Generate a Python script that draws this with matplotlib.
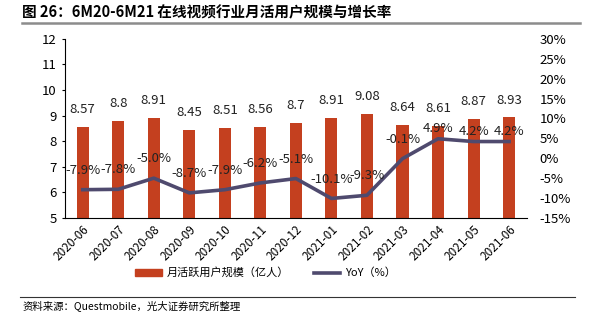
import matplotlib.pyplot as plt
from matplotlib.lines import Line2D
from matplotlib.patches import Patch

plt.rcParams['font.family'] = ['Noto Sans CJK SC', 'DejaVu Sans']

# 月活跃用户规模（亿人）与同比增速
months = ["2020-06", "2020-07", "2020-08", "2020-09", "2020-10", "2020-11", "2020-12",
          "2021-01", "2021-02", "2021-03", "2021-04", "2021-05", "2021-06"]
mau = [8.57, 8.8, 8.91, 8.45, 8.51, 8.56, 8.7, 8.91, 9.08, 8.64, 8.61, 8.87, 8.93]
yoy = [-7.9, -7.8, -5.0, -8.7, -7.9, -6.2, -5.1, -10.1, -9.3, -0.1, 4.9, 4.2, 4.2]

bar_color = "#C4401F"
line_color = "#4F4A6E"

fig = plt.figure(figsize=(5.96, 3.21), dpi=100)
ax = fig.add_axes([0.109, 0.321, 0.775, 0.558])
x = list(range(len(months)))

ax.bar(x, mau, width=0.34, color=bar_color, zorder=2)
for xi, v in zip(x, mau):
    ax.annotate(f"{v:g}", (xi, v), xytext=(0, 12.5), textcoords="offset points",
                ha="center", va="center", fontsize=9.5, color="#222222")

ax.set_xlim(-0.5, len(months) - 0.5)
ax.set_ylim(5, 12)
ax.set_yticks(range(5, 13))
ax.tick_params(axis="y", labelsize=9.5, length=2.5, width=0.8)
ax.tick_params(axis="x", length=0, labelsize=8.5, pad=3.5)
ax.set_xticks(x)
ax.set_xticklabels(months, rotation=45, ha="right", rotation_mode="anchor")
for s in ["top", "right"]:
    ax.spines[s].set_visible(False)

ax2 = ax.twinx()
ax2.plot(x, yoy, color=line_color, linewidth=2.6, zorder=3)
for xi, v in zip(x, yoy):
    # 正值标签离折线更近
    dy = 7.5 if v > 0 else 14
    ax2.annotate(f"{v:.1f}%", (xi, v), xytext=(0, dy), textcoords="offset points",
                 ha="center", va="center", fontsize=9.5, color="#222222")
ax2.set_ylim(-15, 30)
ax2.set_yticks(range(-15, 31, 5))
ax2.set_yticklabels([f"{t}%" for t in range(-15, 31, 5)])
ax2.tick_params(axis="y", labelsize=9.5, length=0, pad=9)
for s in ["top", "right", "left", "bottom"]:
    ax2.spines[s].set_visible(False)

handles = [Patch(color=bar_color), Line2D([0], [0], color=line_color, linewidth=2.6)]
fig.legend(handles, ["月活跃用户规模（亿人）", "YoY（%）"], loc="center",
           bbox_to_anchor=(0.446, 0.15), ncol=2, frameon=False, fontsize=8,
           handlelength=2.4, handleheight=0.6, columnspacing=2.2, handletextpad=0.45)

fig.text(0.037, 0.962, "图 26：6M20-6M21 在线视频行业月活用户规模与增长率",
         fontsize=10.5, fontweight="bold", va="center", ha="left")
fig.add_artist(Line2D([0.037, 0.973], [0.928, 0.928], color="#8C8C8C", linewidth=1.8))
fig.add_artist(Line2D([0.034, 0.965], [0.075, 0.075], color="#333333", linewidth=0.8))
fig.text(0.037, 0.047, "资料来源：Questmobile，光大证券研究所整理",
         fontsize=7.5, va="center", ha="left")

fig.savefig("out.png", dpi=100)
